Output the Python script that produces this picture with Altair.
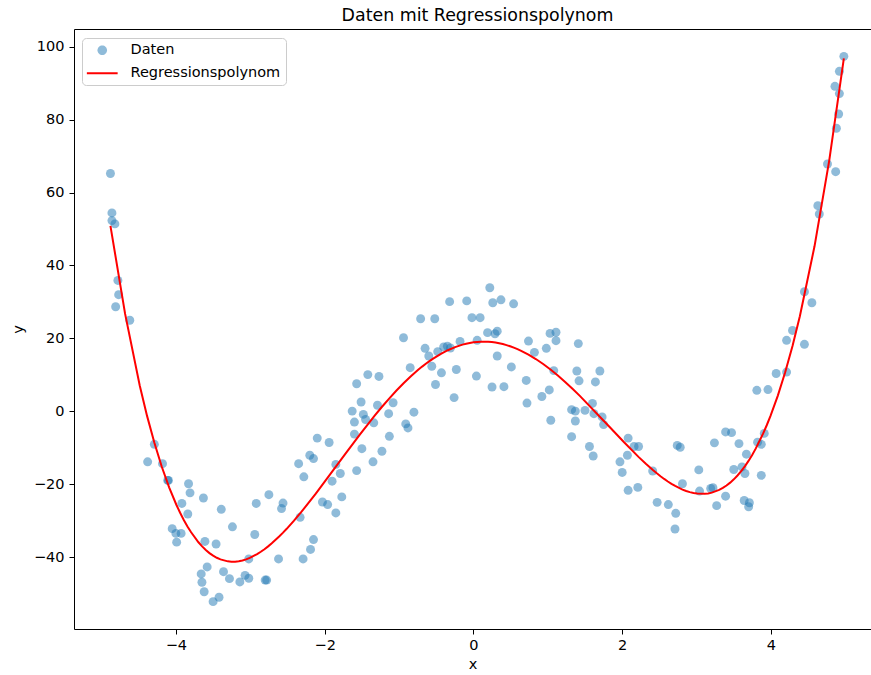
import altair as alt
import pandas as pd

x_vals = [-4.88,-4.86,-4.86,-4.82,-4.78,-4.77,-4.81,-4.62,-4.38,-4.29,
          -4.18,-4.11,-4.10,-4.05,-4.00,-3.99,-3.93,-3.92,-3.84,-3.83,
          -3.81,-3.66,-3.65,-3.63,-3.62,-3.61,-3.58,-3.50,-3.46,-3.42,
          -3.39,-3.36,-3.28,-3.24,-3.14,-3.07,-3.02,-3.02,-2.94,-2.92,
          -2.80,-2.78,-2.75,-2.62,-2.58,-2.56,-2.35,-2.33,-2.29,-2.28,
          -2.20,-2.19,-2.15,-2.15,-2.10,-2.03,-1.96,-1.94,-1.90,-1.85,
          -1.85,-1.79,-1.77,-1.63,-1.60,-1.60,-1.57,-1.57,-1.51,-1.50,
          -1.48,-1.45,-1.42,-1.35,-1.34,-1.29,-1.27,-1.23,-1.14,-1.13,
          -1.08,-0.94,-0.91,-0.88,-0.85,-0.80,-0.71,-0.65,-0.60,-0.56,
          -0.52,-0.51,-0.48,-0.43,-0.40,-0.35,-0.32,-0.31,-0.26,-0.23,
          -0.18,-0.09,-0.02,0.04,0.05,0.09,0.19,0.22,0.25,0.26,
          0.29,0.32,0.32,0.37,0.41,0.51,0.54,0.71,0.72,0.74,
          0.82,0.92,0.98,1.02,1.03,1.04,1.08,1.11,1.11,1.32,
          1.32,1.37,1.37,1.39,1.41,1.42,1.50,1.56,1.60,1.61,
          1.62,1.64,1.70,1.73,1.75,1.97,2.00,2.07,2.08,2.08,
          2.16,2.21,2.22,2.41,2.47,2.62,2.71,2.72,2.74,2.78,
          2.81,3.03,3.04,3.19,3.22,3.24,3.27,3.39,3.39,3.47,
          3.50,3.57,3.61,3.64,3.65,3.67,3.70,3.71,3.81,3.82,
          3.87,3.87,3.91,3.96,4.07,4.21,4.21,4.29,4.45,4.45,
          4.55,4.63,4.65,4.76,4.87,4.88,4.91,4.92,4.86,4.92,
          4.98]

y_vals = [65.2,54.4,52.3,51.4,35.9,32.0,28.7,25.0,-13.8,-9.0,
          -14.3,-18.9,-18.9,-32.1,-33.4,-35.8,-33.4,-25.2,-28.1,-19.8,
          -22.3,-44.5,-46.8,-23.7,-49.4,-35.6,-42.6,-52.1,-36.3,-50.9,
          -26.8,-43.9,-45.8,-31.6,-46.7,-44.9,-45.7,-40.4,-33.7,-25.2,
          -46.2,-46.2,-22.8,-40.4,-26.6,-25.1,-14.3,-29.0,-40.4,-17.9,
          -12.0,-37.8,-35.1,-12.9,-7.3,-24.8,-25.5,-8.5,-19.1,-27.8,
          -14.5,-17.0,-23.4,0.1,-6.2,-2.9,-16.2,7.6,2.6,-10.2,
          -0.8,-2.2,10.1,-13.8,-3.1,1.7,9.6,-10.9,-0.6,-6.8,
          2.4,20.2,-3.4,-4.5,12.0,-0.2,25.4,17.3,15.2,12.4,
          25.4,7.4,16.4,10.6,17.7,17.9,30.1,17.4,3.8,11.5,
          19.2,30.3,25.7,9.7,19.5,25.7,21.6,33.9,6.7,29.8,
          21.3,22.0,15.2,30.6,6.8,12.2,29.5,8.5,2.3,19.3,
          16.2,4.1,17.3,5.9,21.4,-2.4,11.2,21.7,19.4,0.5,
          -6.9,0.1,-2.6,11.1,18.6,8.4,0.3,-9.6,2.2,-12.2,
          -0.6,8.1,11.1,-1.5,-3.6,-13.8,-16.7,-12.0,-7.3,-21.6,
          -9.6,-20.8,-9.6,-16.3,-24.9,-25.5,-32.2,-27.9,-9.3,-9.8,
          -19.8,-16.0,-21.8,-21.1,-20.9,-8.6,-25.8,-5.6,-23.2,-5.8,
          -15.9,-8.8,-15.2,-24.4,-17.0,-11.7,-26.1,-25.0,5.8,-8.4,
          -9.0,-17.5,-6.0,6.0,10.4,10.8,19.5,22.2,32.8,18.4,
          29.8,56.4,54.1,67.8,65.7,77.6,81.5,87.1,89.1,93.2,
          97.3]

series_names = ["Daten", "Regressionspolynom"]
series_colors = ["rgba(31,119,180,0.5)", "#ff0000"]
x_ticks = [-4, -2, 0, 2, 4]
y_ticks = [-40, -20, 0, 20, 40, 60, 80, 100]

df = pd.DataFrame({"x": x_vals, "y": y_vals, "series": series_names[0]})

FONT = "DejaVu Sans"
xscale = alt.Scale(domain=[-5.37, 5.345], nice=False, zero=False)
yscale = alt.Scale(domain=[-59.6, 104.8], nice=False, zero=False)
cscale = alt.Scale(domain=series_names, range=series_colors)

circle_path = "M -0.68,0 A 0.68,0.68 0 1,0 0.68,0 A 0.68,0.68 0 1,0 -0.68,0 Z"
line_path = "M -2.2,0 L 2.2,0"
is_daten = "datum.value === 'Daten'"

legend = alt.Legend(
    title=None, orient="none", legendX=8, legendY=9,
    padding=5, strokeColor="#cccccc", fillColor="white", cornerRadius=4,
    symbolSize=196, symbolOffset=8, labelOffset=21, rowPadding=8,
    symbolType={"expr": f"{is_daten} ? '{circle_path}' : '{line_path}'"},
    symbolStrokeColor={"expr": f"{is_daten} ? 'transparent' : '#ff0000'"},
    symbolStrokeWidth={"expr": f"{is_daten} ? 0 : 2"},
    labelFont=FONT, labelFontSize=14.5, labelColor="black",
)

xaxis = alt.Axis(values=x_ticks, title="x", grid=False, tickSize=5, labelPadding=4,
                 titlePadding=6, domainColor="black", tickColor="black")
yaxis = alt.Axis(values=y_ticks, title="y", grid=False, tickSize=5, labelPadding=5,
                 titlePadding=8, domainColor="black", tickColor="black")
topaxis = alt.Axis(orient="top", labels=False, ticks=False, domain=True, grid=False,
                   title=None, domainColor="black")

points = alt.Chart(df).mark_circle(size=80, opacity=1).encode(
    x=alt.X("x:Q", scale=xscale, axis=xaxis),
    y=alt.Y("y:Q", scale=yscale, axis=yaxis),
    color=alt.Color("series:N", scale=cscale, legend=legend),
)

line = alt.Chart(df).transform_regression(
    "x", "y", method="poly", order=4
).transform_calculate(
    series="'Regressionspolynom'"
).mark_line(strokeWidth=2).encode(
    x=alt.X("x:Q", scale=xscale, axis=topaxis),
    y=alt.Y("y:Q", scale=yscale, axis=yaxis),
    color=alt.Color("series:N", scale=cscale, legend=legend),
)

chart = alt.layer(points, line).resolve_axis(x="independent").properties(
    width=797, height=600,
    autosize=alt.AutoSizeParams(type="none"),
    padding={"left": 74, "top": 29, "right": 0, "bottom": 46},
    title=alt.TitleParams("Daten mit Regressionspolynom", font=FONT, fontSize=17.4,
                          fontWeight="normal", color="black", anchor="middle",
                          offset=5, dx=5),
).configure_view(stroke=None).configure_axis(
    labelFont=FONT, labelFontSize=14.5, labelColor="black",
    titleFont=FONT, titleFontSize=14.5, titleFontWeight="normal", titleColor="black",
    domainWidth=1, tickWidth=1,
)

chart.save("out.html", embed_options={"renderer": "svg", "actions": False})
